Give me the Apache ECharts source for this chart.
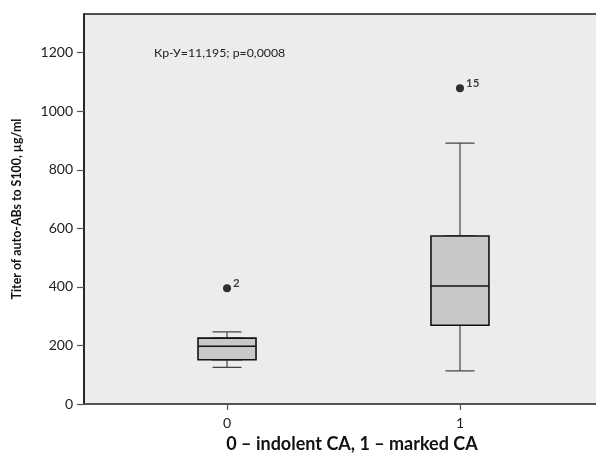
<!DOCTYPE html>
<html>
<head>
<meta charset="utf-8">
<script src="https://cdn.jsdelivr.net/npm/echarts@6/dist/echarts.min.js"></script>
<style>html,body{margin:0;padding:0;background:#fff;}#c{width:596px;height:458px;}</style>
</head>
<body>
<div id="c"></div>
<script>
const categories = [0, 1];
const mins = [125, 113];
const q1s = [151, 269];
const medians = [197, 403];
const q3s = [225, 574];
const maxs = [246, 891];
const outlierGroup = [0, 1];
const outlierValues = [395, 1078];
const outlierIds = ['2', '15'];
const yTicks = [0, 200, 400, 600, 800, 1000, 1200];
const annotation = 'Кр-У=11,195; p=0,0008';
const xTitle = '0 – indolent CA, 1 – marked CA';
const yTitle = 'Titer of auto-ABs to S100, µg/ml';

const FONT = 'Lato';
const chart = echarts.init(document.getElementById('c'), null, {renderer: 'canvas'});

const whiskerData = categories.map((c, i) => [c, mins[i], q1s[i], medians[i], q3s[i], maxs[i]]);
const boxData = categories.map((c, i) => [c, q1s[i], q1s[i], medians[i], q3s[i], q3s[i]]);
const outData = outlierGroup.map((g, i) => ({value: [g, outlierValues[i]], name: outlierIds[i]}));

const X_MIN = -0.614, X_MAX = 1.614;

chart.setOption({
  animation: false,
  backgroundColor: '#ffffff',
  textStyle: {fontFamily: FONT},
  title: {
    text: annotation,
    left: 154, top: 47, padding: 0,
    textStyle: {fontFamily: FONT, fontSize: 12.3, fontWeight: 'normal', color: '#222'}
  },
  grid: {
    left: 84, top: 14, width: 519, height: 390,
    outerBoundsMode: 'none', containLabel: false,
    show: true, backgroundColor: '#ececec', borderColor: '#1a1a1a', borderWidth: 1.5
  },
  xAxis: [{
    type: 'value', min: X_MIN, max: X_MAX,
    name: xTitle, nameLocation: 'middle', nameGap: 29,
    nameTextStyle: {fontFamily: FONT, fontSize: 18, fontWeight: 'bold', color: '#111', padding: [0, 0, 0, 17]},
    axisLine: {show: true, onZero: false, lineStyle: {color: '#555', width: 1.5}},
    axisTick: {show: true, length: 6, customValues: categories, lineStyle: {color: '#555', width: 1.2}},
    axisLabel: {customValues: categories, margin: 12, fontSize: 14, color: '#222', fontFamily: FONT},
    splitLine: {show: false}
  }, {
    type: 'value', min: X_MIN, max: X_MAX, show: false,
    splitLine: {show: false}
  }],
  yAxis: {
    type: 'value', min: 0, max: 1332,
    name: yTitle, nameLocation: 'middle', nameGap: 56, nameRotate: 90,
    nameTextStyle: {fontFamily: FONT, fontSize: 12.4, fontWeight: 'bold', color: '#111', padding: [0, 0, 5, 0]},
    axisLine: {show: true, onZero: false, lineStyle: {color: '#1a1a1a', width: 1.5}},
    axisTick: {show: true, length: 7, customValues: yTicks, lineStyle: {color: '#555', width: 1.2}},
    axisLabel: {customValues: yTicks, margin: 11, fontSize: 14, color: '#222', fontFamily: FONT,
      formatter: v => String(v)},
    splitLine: {show: false}
  },
  series: [
    {
      type: 'boxplot', z: 2, xAxisIndex: 0,
      boxWidth: [29, 29],
      data: whiskerData,
      itemStyle: {color: '#c8c8c8', borderColor: '#444', borderWidth: 1.2},
      emphasis: {disabled: true}
    },
    {
      type: 'boxplot', z: 3, xAxisIndex: 1,
      boxWidth: [58, 58],
      data: boxData,
      itemStyle: {color: '#c8c8c8', borderColor: '#111', borderWidth: 1.6},
      emphasis: {disabled: true}
    },
    {
      type: 'scatter', z: 4, xAxisIndex: 0,
      data: outData,
      symbol: 'circle', symbolSize: 8,
      itemStyle: {color: '#000'},
      label: {
        show: true, position: 'right', distance: 2, offset: [0, -5],
        formatter: p => p.name,
        fontFamily: FONT, fontSize: 11.5, fontWeight: 'bold', color: '#111'
      }
    }
  ]
});
</script>
</body>
</html>
